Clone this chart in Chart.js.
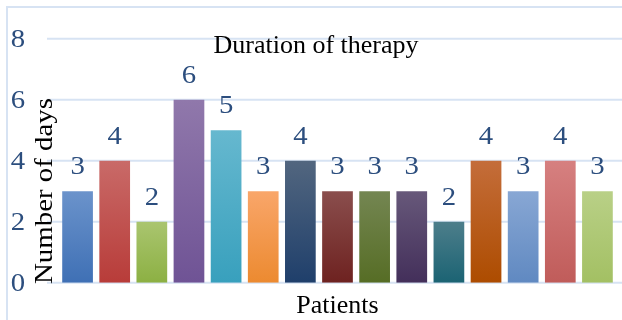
<!DOCTYPE html>
<html>
<head>
<meta charset="utf-8">
<script src="https://cdn.jsdelivr.net/npm/chart.js@4/dist/chart.umd.min.js"></script>
<style>
  html, body { margin: 0; padding: 0; background: #ffffff; }
  #wrap { width: 622px; height: 320px; position: relative; }
</style>
</head>
<body>
<div id="wrap"><canvas id="chart" width="622" height="320"></canvas></div>
<script>
// Days of therapy per patient
const patients = ['1', '2', '3', '4', '5', '6', '7', '8', '9', '10', '11', '12', '13', '14', '15'];
const days = [3, 4, 2, 6, 5, 3, 4, 3, 3, 3, 2, 4, 3, 4, 3];
const yTickValues = [0, 2, 4, 6, 8];

// Per-bar gradient colours (top, bottom)
const barTopColors = ['#6b93cb', '#c96a68', '#aac56f', '#9078ab', '#66b8cf', '#f9a66a', '#52667f', '#8a4e4d',
  '#748652', '#67587a', '#4d7e8b', '#c46d3a', '#88a7d4', '#d68080', '#b9d087'];
const barBottomColors = ['#3f70b5', '#b83c39', '#8cb043', '#6f5395', '#38a0bd', '#ec8a30', '#1f3f6b', '#6e2220',
  '#566d25', '#432f5a', '#1b6373', '#ad4c00', '#6089c1', '#c05c5a', '#a3c063'];

const chartTitle = 'Duration of therapy';
const xTitle = 'Patients';
const yTitle = 'Number of days';

const SERIF = "'Liberation Serif', 'Times New Roman', serif";
const NUM_COLOR = '#2c4e7e';
const GRID_COLOR = '#d7e3f3';
const NUM_FONT = '25px ' + SERIF;
const DIGIT_STRETCH = 1.15;   // numerals are set slightly wide

function barGradient(context) {
  const chart = context.chart;
  const i = context.dataIndex;
  if (!chart.chartArea || !chart.scales.y) return barBottomColors[i];
  const y = chart.scales.y;
  const top = y.getPixelForValue(days[i]);
  const bottom = y.getPixelForValue(0);
  const g = chart.ctx.createLinearGradient(0, top, 0, bottom);
  g.addColorStop(0, barTopColors[i]);
  g.addColorStop(1, barBottomColors[i]);
  return g;
}

function wideNumber(ctx, text, x, y) {
  ctx.save();
  ctx.translate(x, y);
  ctx.scale(DIGIT_STRETCH, 1);
  ctx.fillText(text, 0, 0);
  ctx.restore();
}

// Frame, horizontal grid lines and value-axis labels
const backdrop = {
  id: 'backdrop',
  beforeDatasetsDraw(chart) {
    const ctx = chart.ctx;
    const y = chart.scales.y;
    ctx.save();
    ctx.strokeStyle = GRID_COLOR;
    ctx.lineWidth = 2;
    ctx.beginPath();
    ctx.moveTo(7, 320);
    ctx.lineTo(7, 7);
    ctx.lineTo(622, 7);
    ctx.stroke();
    y.ticks.forEach(t => {
      const py = y.getPixelForValue(t.value);
      ctx.beginPath();
      ctx.moveTo(47, py);
      ctx.lineTo(622, py);
      ctx.stroke();
    });
    ctx.font = NUM_FONT;
    ctx.fillStyle = NUM_COLOR;
    ctx.textAlign = 'center';
    ctx.textBaseline = 'alphabetic';
    y.ticks.forEach(t => {
      wideNumber(ctx, String(t.value), 18, y.getPixelForValue(t.value) + 8.5);
    });
    ctx.restore();
  }
};

// Value labels and titles
const annotations = {
  id: 'annotations',
  afterDatasetsDraw(chart) {
    const ctx = chart.ctx;
    ctx.save();
    ctx.font = NUM_FONT;
    ctx.fillStyle = NUM_COLOR;
    ctx.textAlign = 'center';
    ctx.textBaseline = 'alphabetic';
    chart.getDatasetMeta(0).data.forEach((bar, i) => {
      wideNumber(ctx, String(days[i]), bar.x, bar.y - 17);
    });

    ctx.fillStyle = '#000000';
    ctx.font = '26px ' + SERIF;
    ctx.fillText(chartTitle, 316, 52.5);
    ctx.fillText(xTitle, 337.5, 312.5);

    ctx.translate(52, 191);
    ctx.rotate(-Math.PI / 2);
    ctx.scale(1.11, 1);
    ctx.fillText(yTitle, 0, 0);
    ctx.restore();
  }
};

new Chart(document.getElementById('chart'), {
  type: 'bar',
  data: {
    labels: patients,
    datasets: [{
      data: days,
      backgroundColor: barGradient,
      borderWidth: 0,
      barPercentage: 0.827,
      categoryPercentage: 1
    }]
  },
  options: {
    responsive: false,
    animation: false,
    devicePixelRatio: 1,
    layout: { padding: { left: 59, right: 6, top: 38.7, bottom: 37.3 } },
    plugins: {
      legend: { display: false },
      title: { display: false },
      tooltip: { enabled: false }
    },
    scales: {
      x: { display: false, offset: true },
      y: {
        display: false,
        min: 0,
        max: 8,
        afterBuildTicks(scale) { scale.ticks = yTickValues.map(v => ({ value: v })); }
      }
    }
  },
  plugins: [backdrop, annotations]
});
</script>
</body>
</html>
